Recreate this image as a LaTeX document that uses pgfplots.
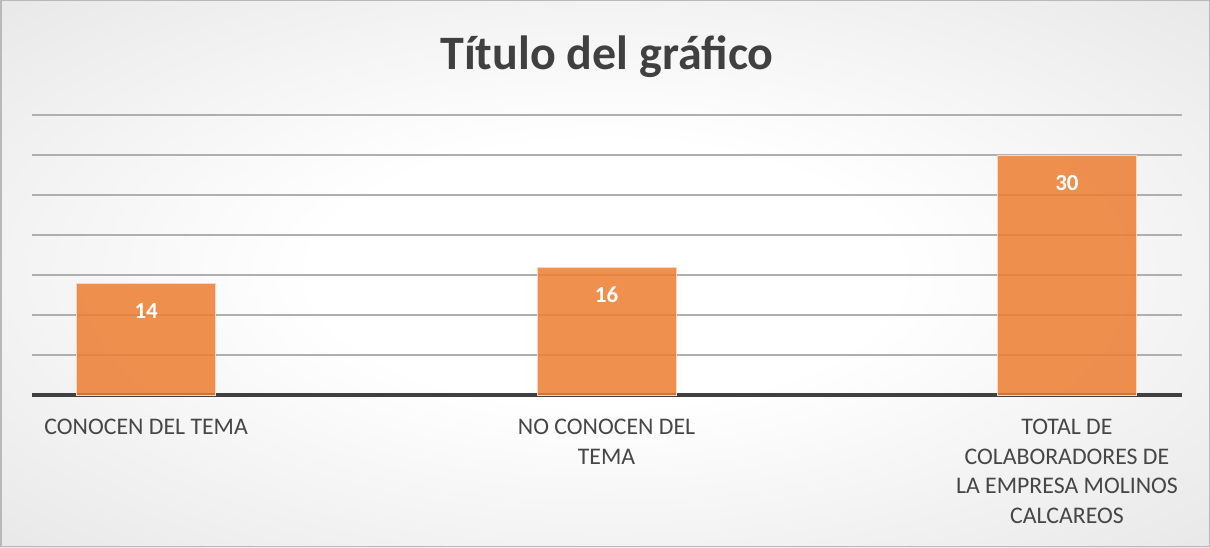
\documentclass[border=0pt]{standalone}
\usepackage{pgfplots}
\pgfplotsset{compat=1.18}
\usepackage{fontspec}
\setmainfont{Carlito}
\definecolor{barc}{RGB}{237,125,49}
\definecolor{bard}{RGB}{250,215,190}
\definecolor{txt}{RGB}{64,64,64}
\definecolor{ltxt}{RGB}{70,70,70}
\definecolor{gridc}{RGB}{175,175,175}
\definecolor{basec}{RGB}{64,64,64}
\pgfdeclareradialshading{bgshade}{\pgfpoint{0bp}{0bp}}{color(0bp)=(white); color(12bp)=(white); color(71bp)=(gray!45)}
\begin{document}
\begin{tikzpicture}[x=1pt,y=1pt]
\shade[shading=bgshade] (0,0) rectangle (1210,547);
\draw[gray!55, line width=1.5pt] (0.75,0.75) rectangle (1209.25,546.25);
\node[anchor=base, font=\fontsize{48}{52}\selectfont\bfseries, text=txt, inner sep=0pt] at (607,477) {Título del gráfico};
\begin{axis}[
  at={(32pt,152pt)}, anchor=south west,
  scale only axis, width=1150pt, height=280pt,
  xmin=-0.248, xmax=2.25, ymin=0, ymax=35,
  axis line style={draw=none},
  /pgf/number format/assume math mode=true,
  ytick={5,10,...,35}, yticklabels={},
  ymajorgrids, grid style={gridc, line width=1.2pt},
  extra y ticks={0}, extra y tick labels={},
  extra y tick style={grid style={basec, line width=3.5pt}},
  major tick length=0pt,
  xtick={0,1,2},
  xticklabels={{CONOCEN DEL TEMA},{NO CONOCEN DEL\\TEMA},{TOTAL DE\\COLABORADORES DE\\LA EMPRESA MOLINOS\\CALCAREOS}},
  x tick label style={align=center, font=\fontsize{23.8}{29.5}\selectfont, text=ltxt, anchor=north, yshift=-21pt},
  xtick style={draw=none},
  ybar, bar width=139pt,
  nodes near coords,
  nodes near coords style={font=\fontsize{23}{26}\selectfont\bfseries, text=white, text opacity=1, anchor=center, yshift=-28pt},
]
\addplot[fill=barc, fill opacity=0.85, draw=bard, line width=1pt] coordinates {(0,14) (1,16) (2,30)};
\end{axis}
\end{tikzpicture}
\end{document}
